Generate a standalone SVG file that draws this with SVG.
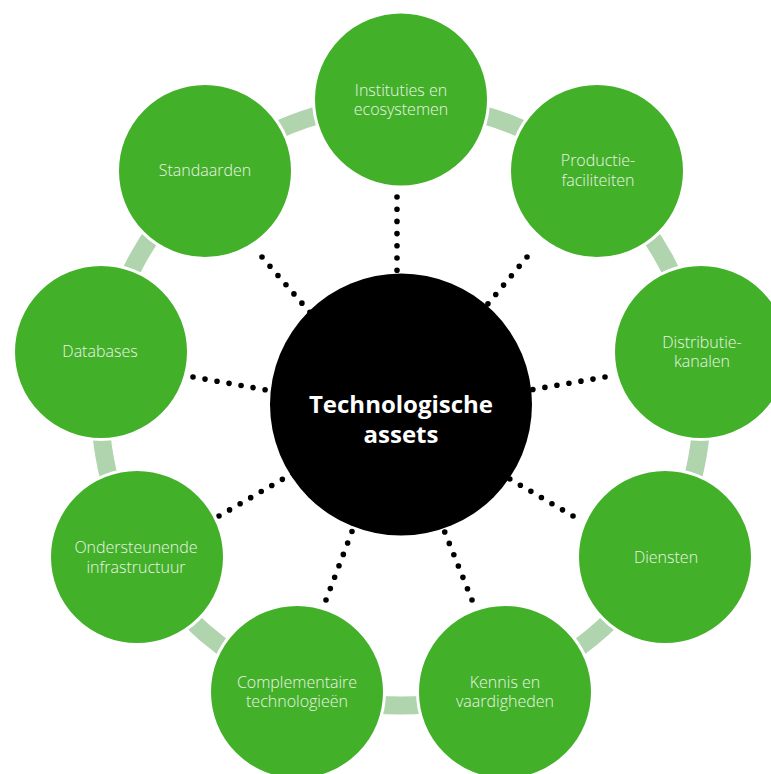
<svg xmlns="http://www.w3.org/2000/svg" width="771" height="774" viewBox="0 0 771 774">
<style>
.ring{fill:none;stroke:#b0d4ad;stroke-width:18}
.dots{fill:none;stroke:#000;stroke-width:5.6;stroke-linecap:round;stroke-dasharray:0 12.2}
.node{fill:#43b02a;stroke:#fff;stroke-width:3}
.lbl{font-family:"Open Sans","Liberation Sans",sans-serif;font-weight:300;font-size:16px;fill:#eaf5e4;text-anchor:middle}
.hub{fill:#000}
.hubl{font-family:"Open Sans","Liberation Sans",sans-serif;font-weight:700;font-size:24px;fill:#fff;text-anchor:middle}
</style>
<rect width="771" height="774" fill="#fff"/>
<g id="connectors">
<circle class="ring" cx="401" cy="404.5" r="301"/>
<line class="dots" x1="397" y1="197" x2="397" y2="413"/>
<line class="dots" x1="527" y1="257" x2="397" y2="413"/>
<line class="dots" x1="605" y1="377" x2="397" y2="413"/>
<line class="dots" x1="573" y1="516" x2="397" y2="413"/>
<line class="dots" x1="472" y1="600" x2="397" y2="413"/>
<line class="dots" x1="326" y1="600" x2="397" y2="413"/>
<line class="dots" x1="219" y1="516" x2="397" y2="413"/>
<line class="dots" x1="193" y1="377" x2="397" y2="413"/>
<line class="dots" x1="262" y1="257" x2="397" y2="413"/>
</g>
<g id="n-instituties">
<circle class="node" cx="401" cy="99.5" r="87.5"/>
<text class="lbl" x="401" y="95.5">Instituties en</text>
<text class="lbl" x="401" y="115">ecosystemen</text>
</g>
<g id="n-productie">
<circle class="node" cx="597" cy="171" r="87.5"/>
<text class="lbl" x="598" y="165.5">Productie-</text>
<text class="lbl" x="598" y="185.5">faciliteiten</text>
</g>
<g id="n-distributie">
<circle class="node" cx="701" cy="352" r="87.5"/>
<text class="lbl" x="702" y="347.5">Distributie-</text>
<text class="lbl" x="702" y="367">kanalen</text>
</g>
<g id="n-diensten">
<circle class="node" cx="665" cy="557" r="87.5"/>
<text class="lbl" x="666" y="562.5">Diensten</text>
</g>
<g id="n-kennis">
<circle class="node" cx="505" cy="692" r="87.5"/>
<text class="lbl" x="505" y="687.5">Kennis en</text>
<text class="lbl" x="505" y="707">vaardigheden</text>
</g>
<g id="n-complementaire">
<circle class="node" cx="297" cy="692" r="87.5"/>
<text class="lbl" x="297" y="687.5">Complementaire</text>
<text class="lbl" x="297" y="707">technologieën</text>
</g>
<g id="n-ondersteunende">
<circle class="node" cx="137" cy="557" r="87.5"/>
<text class="lbl" x="136" y="553">Ondersteunende</text>
<text class="lbl" x="136" y="572.5">infrastructuur</text>
</g>
<g id="n-databases">
<circle class="node" cx="101" cy="352" r="87.5"/>
<text class="lbl" x="100" y="357">Databases</text>
</g>
<g id="n-standaarden">
<circle class="node" cx="205" cy="171" r="87.5"/>
<text class="lbl" x="205" y="175.5">Standaarden</text>
</g>
<g id="n-center">
<circle class="hub" cx="401" cy="404.5" r="131"/>
<text class="hubl" x="401" y="413">Technologische</text>
<text class="hubl" x="401" y="443">assets</text>
</g>
</svg>
